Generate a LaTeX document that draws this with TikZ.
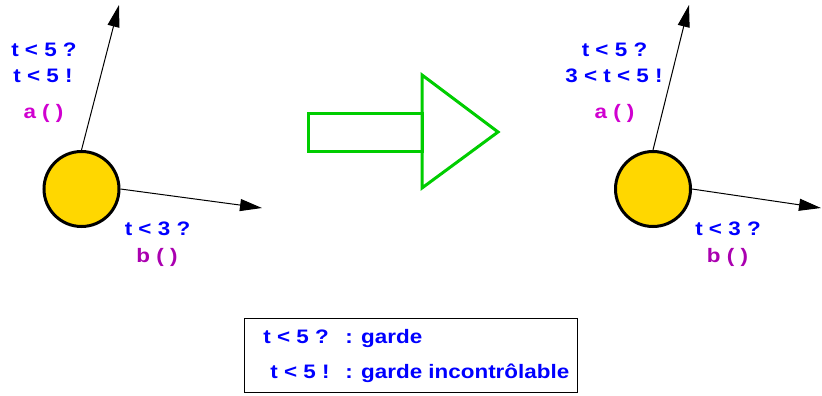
\documentclass[tikz,border=0pt]{standalone}
\usepackage{fontspec}
\setmainfont{Liberation Sans}[FakeStretch=1.15]
\usetikzlibrary{arrows.meta}
\definecolor{gold}{RGB}{255,215,0}
\definecolor{vert}{RGB}{0,205,0}
\definecolor{mag}{RGB}{208,0,208}
\definecolor{violet}{RGB}{170,0,176}
\begin{document}
\begin{tikzpicture}[x=1pt, y=1pt, thick,
    etat/.style = {draw, circle, fill=gold, line width=3pt, minimum size=75pt, inner sep=0pt},
    trans/.style = {-{Triangle[length=22pt, width=12pt]}, line width=1pt},
    txt/.style = {font=\bfseries\fontsize{19.5}{22}\selectfont, anchor=base, inner sep=0pt}]
    \useasboundingbox (0,0) rectangle (822,-396);
    % Dessine les deux automates

    \node[etat] (g) at (81.5,-189) {};
    \coordinate (ga) at (119,-5);
    \coordinate (gb) at (262,-208);
    \draw[trans] (g.north) -- (ga);
    \draw[trans] (g.east) -- (gb);

    \node[etat] (d) at (653,-189) {};
    \coordinate (da) at (689,-5);
    \coordinate (db) at (821,-208);
    \draw[trans] (d.north) -- (da);
    \draw[trans] (d.east) -- (db);

    \node[txt, blue] (g1) at (44,-57) {t < 5 ?};
    \node[txt, blue] (g2) at (43,-82) {t < 5 !};
    \node[txt, mag] (g3) at (43.5,-118) {a ( )};
    \node[txt, blue] (g4) at (157.5,-235) {t < 3 ?};
    \node[txt, violet] (g5) at (157,-262) {b ( )};

    \node[txt, blue] (d1) at (614.5,-57) {t < 5 ?};
    \node[txt, blue] (d2) at (614,-82) {3 < t < 5 !};
    \node[txt, mag] (d3) at (614.5,-118) {a ( )};
    \node[txt, blue] (d4) at (728,-235) {t < 3 ?};
    \node[txt, violet] (d5) at (727.5,-262) {b ( )};

    \draw[vert, line width=3pt] (308,-113) rectangle (422,-151);
    \draw[vert, line width=3pt, line join=miter] (422,-75) -- (498,-132) -- (422,-188) -- cycle;

    \draw[line width=1pt] (244,-318) rectangle (577,-392);
    \node[txt, blue, anchor=base west] (l1) at (263,-343) {\makebox[82pt][l]{t < 5 ?}: garde};
    \node[txt, blue, anchor=base west] (l2) at (270,-378) {\makebox[75pt][l]{t < 5 !}: garde incontrôlable};

\end{tikzpicture}
\end{document}
